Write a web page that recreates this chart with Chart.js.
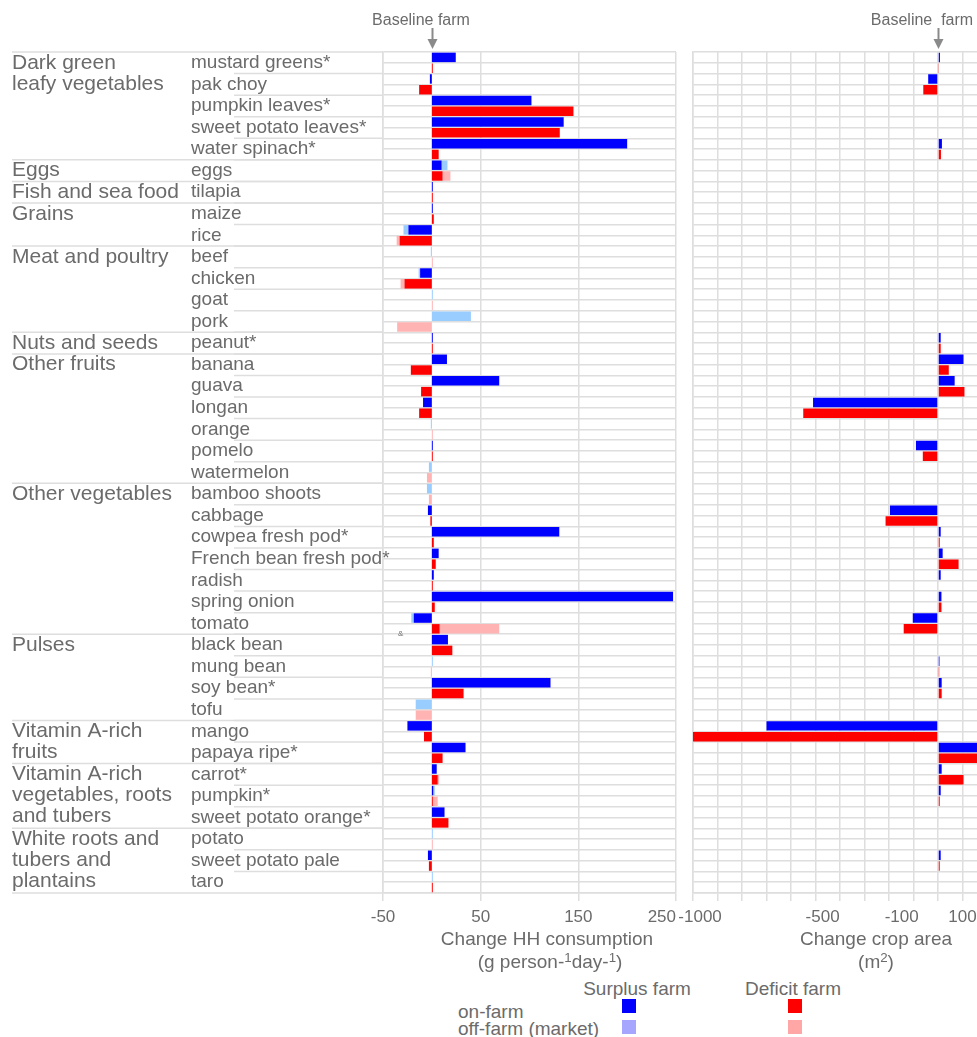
<!DOCTYPE html>
<html>
<head>
<meta charset="utf-8">
<script src="https://cdn.jsdelivr.net/npm/chart.js@4.4.1/dist/chart.umd.min.js"></script>
<style>
html, body { margin: 0; padding: 0; background: #fff; overflow: hidden; width: 977px; height: 1037px; }
body { position: relative; font-family: 'Liberation Sans', Arial, sans-serif; color: #6b6b6b; }
canvas { position: absolute; }
.t { position: absolute; white-space: pre; line-height: 1; transform: translate(-50%, -50%); }
.l { position: absolute; white-space: pre; line-height: 1; transform: translateY(-50%); }
.sq { position: absolute; width: 14px; height: 14px; }
sup { font-size: 0.7em; vertical-align: 0.45em; line-height: 0; }
</style>
</head>
<body>
<canvas id="consChart" width="716" height="940" style="left:0;top:0;width:716px;height:940px"></canvas>
<canvas id="areaChart" width="410" height="940" style="left:650px;top:0;width:410px;height:940px"></canvas>

<div class="t" style="left:421px;top:20px;font-size:16px">Baseline farm</div>
<div class="t" style="left:922px;top:20px;font-size:16px">Baseline  farm</div>
<div class="l" style="left:398px;top:634px;font-size:8px">&amp;</div>

<div class="t" style="left:547px;top:938px;font-size:19px">Change HH consumption</div>
<div class="t" style="left:550px;top:961px;font-size:19px">(g person-<sup>1</sup>day-<sup>1</sup>)</div>
<div class="t" style="left:876px;top:938px;font-size:19px">Change crop area</div>
<div class="t" style="left:876px;top:961px;font-size:19px">(m<sup>2</sup>)</div>

<div class="t" style="left:637px;top:988px;font-size:19px">Surplus farm</div>
<div class="t" style="left:793px;top:988px;font-size:19px">Deficit farm</div>
<div class="l" style="left:458px;top:1011px;font-size:19px">on-farm</div>
<div class="l" style="left:458px;top:1028px;font-size:19px">off-farm (market)</div>
<div class="sq" style="left:622px;top:999px;background:#0000ff"></div>
<div class="sq" style="left:788px;top:999px;background:#ff0000"></div>
<div class="sq" style="left:622px;top:1020px;background:#a6a6ff"></div>
<div class="sq" style="left:788px;top:1020px;background:#ffa6a6"></div>

<script>
const foods = [
    'mustard greens*', 'pak choy', 'pumpkin leaves*', 'sweet potato leaves*', 'water spinach*',
    'eggs', 'tilapia', 'maize', 'rice',
    'beef', 'chicken', 'goat', 'pork',
    'peanut*',
    'banana', 'guava', 'longan', 'orange', 'pomelo', 'watermelon',
    'bamboo shoots', 'cabbage', 'cowpea fresh pod*', 'French bean fresh pod*', 'radish', 'spring onion', 'tomato',
    'black bean', 'mung bean', 'soy bean*', 'tofu',
    'mango', 'papaya ripe*',
    'carrot*', 'pumpkin*', 'sweet potato orange*',
    'potato', 'sweet potato pale', 'taro'
]

const groupNames = [
    ['Dark green', 'leafy vegetables'], ['Eggs'], ['Fish and sea food'], ['Grains'],
    ['Meat and poultry'], ['Nuts and seeds'], ['Other fruits'], ['Other vegetables'], ['Pulses'],
    ['Vitamin A-rich', 'fruits'], ['Vitamin A-rich', 'vegetables, roots', 'and tubers'],
    ['White roots and', 'tubers and', 'plantains']
]
const groupSizes = [5, 1, 1, 2, 4, 1, 6, 7, 4, 2, 3, 3]

// change in household consumption (g person-1 day-1)
const surplusOnFarm = [24.5, -2, 102, 135, 200, 10, 1, 1, -24, null, -12, null, null, 1, 15.5, 69, -9, null, 1, null,
    null, -4, 130.5, 7, 2, 247, -18.5, 16.5, null, 121.5, null, -25, 34.5, 5, 1.5, 13, null, -4, null]
const surplusMarket = [null, null, null, null, null, 6, null, null, -5, -1, -1.5, 1, 40, null, null, null, null, -1, null, -3,
    -5, null, null, null, null, null, -2.5, null, 1, null, -16.5, null, null, null, 1.5, null, 1, null, 1]
const deficitOnFarm = [1, -13, 145, 131, 7, 11, 1, 2, -33, null, -28, null, null, 1, -21.5, -11, -13, null, 1, null,
    null, -1.5, 2, 4, 1, 3, 8, 21, null, 32.5, null, -8, 11, 6, 1, 17, null, -3, 1]
const deficitMarket = [null, null, null, null, null, 8, null, null, -3, 1, -4, 1, -35.5, null, null, null, null, 1, null, -5,
    -3, null, null, null, null, null, 61, null, -1, null, -16.5, null, null, 1.5, 5, null, 1, null, null]

// change in crop area (m2)
const areaSurplus = [8, -40, null, null, 16, null, null, null, null, null, null, null, null, 11, 104, 68, -510, null, -90, null,
    null, -196, 11, 19, 11, 14, -103, null, 6, 15, null, -700, 200, 15, 11, 3, null, 11, 3]
const areaDeficit = [2, -60, null, null, 12, null, null, null, null, null, null, null, null, 11, 44, 108, -550, null, -62, null,
    null, -214, 7, 84, 3, 14, -140, null, 5, 15, null, -1000, 200, 104, 7, 3, null, 7, 3]

const consTicks = [-50, 50, 150, 250]
const areaTickLabels = [-1000, -500, -100, 100]

// the printed labels sit a little off their grid lines, spaces nudge them
const consTickText = { '-50': '-50', '50': '50', '150': '150', '250': '250      ' }
const areaTickText = { '-1000': '   -1000', '-500': '   -500', '-100': '-100     ', '100': '100' }

const gridGray = '#dedede'
const textGray = '#6b6b6b'
const fontFamily = '"Liberation Sans", Arial, sans-serif'

// every food gets two sub-rows: surplus farm on top, deficit farm below
const rowLabels = []
foods.forEach(f => { rowLabels.push(f + ' surplus', f + ' deficit') })

function toRows(values, top) {
    const out = []
    values.forEach(v => {
        if (top) out.push(v, null)
        else out.push(null, v)
    })
    return out
}

function barSet(label, values, top, color) {
    return {
        label: label,
        data: toRows(values, top),
        backgroundColor: color,
        borderWidth: 0,
        barPercentage: 0.88,
        categoryPercentage: 1
    }
}

const baselineArrow = {
    id: 'baselineArrow',
    afterDraw(chart) {
        const ctx = chart.ctx
        const x = Math.round(chart.scales.x.getPixelForValue(0)) + 0.5
        ctx.save()
        ctx.strokeStyle = '#8a8a8a'
        ctx.fillStyle = '#8a8a8a'
        ctx.lineWidth = 2
        ctx.beginPath()
        ctx.moveTo(x, 28)
        ctx.lineTo(x, 41)
        ctx.stroke()
        ctx.beginPath()
        ctx.moveTo(x - 5, 39)
        ctx.lineTo(x + 5, 39)
        ctx.lineTo(x, 49)
        ctx.closePath()
        ctx.fill()
        ctx.restore()
    }
}

const foodLabels = {
    id: 'foodLabels',
    afterDraw(chart) {
        const ctx = chart.ctx
        const yScale = chart.scales.y
        const left = chart.chartArea.left
        const itemH = (yScale.bottom - yScale.top) / foods.length
        ctx.save()
        ctx.strokeStyle = gridGray
        ctx.lineWidth = 1.5
        for (let i = 1; i < foods.length; i++) {
            const y = yScale.top + i * itemH
            ctx.beginPath()
            ctx.moveTo(234, y)
            ctx.lineTo(left, y)
            ctx.stroke()
        }
        let start = 0
        groupSizes.forEach(n => {
            const y = yScale.top + start * itemH
            ctx.beginPath()
            ctx.moveTo(12, y)
            ctx.lineTo(left, y)
            ctx.stroke()
            start += n
        })
        ctx.beginPath()
        ctx.moveTo(12, yScale.bottom)
        ctx.lineTo(left, yScale.bottom)
        ctx.stroke()

        ctx.fillStyle = textGray
        ctx.textBaseline = 'middle'
        ctx.textAlign = 'left'
        ctx.font = '19px ' + fontFamily
        foods.forEach((f, i) => {
            ctx.fillText(f, 191, yScale.top + (i + 0.5) * itemH)
        })
        ctx.font = '21px ' + fontFamily
        start = 0
        groupNames.forEach((lines, g) => {
            lines.forEach((line, k) => {
                ctx.fillText(line, 12, yScale.top + (start + 0.5) * itemH + k * 21)
            })
            start += groupSizes[g]
        })
        ctx.restore()
    }
}

const consChart = new Chart(document.getElementById('consChart'), {
    type: 'bar',
    data: {
        labels: rowLabels,
        datasets: [
            barSet('Surplus on-farm', surplusOnFarm, true, '#0000ff'),
            barSet('Surplus off-farm', surplusMarket, true, '#99ccff'),
            barSet('Deficit on-farm', deficitOnFarm, false, '#ff0000'),
            barSet('Deficit off-farm', deficitMarket, false, '#ffb3b3')
        ]
    },
    options: {
        indexAxis: 'y',
        responsive: false,
        animation: false,
        layout: { padding: { left: 383, top: 52, right: 40, bottom: 0 } },
        plugins: { legend: { display: false }, tooltip: { enabled: false } },
        scales: {
            x: {
                min: -50,
                max: 250,
                stacked: true,
                afterBuildTicks: s => { s.ticks = consTicks.map(v => ({ value: v })) },
                afterFit: s => { s.height = 47 },
                grid: { color: gridGray, lineWidth: 1.5, tickLength: 8 },
                border: { color: gridGray, width: 1.5 },
                ticks: {
                    color: textGray,
                    font: { family: fontFamily, size: 17 },
                    padding: 6,
                    maxRotation: 0,
                    autoSkip: false,
                    callback: v => consTickText[String(v)]
                }
            },
            y: {
                stacked: true,
                offset: true,
                afterFit: s => { s.width = 0 },
                grid: { offset: true, color: gridGray, lineWidth: 1.5, drawTicks: false },
                border: { color: gridGray, width: 1.5 },
                ticks: { display: false }
            }
        }
    },
    plugins: [foodLabels, baselineArrow]
})

const areaChart = new Chart(document.getElementById('areaChart'), {
    type: 'bar',
    data: {
        labels: rowLabels,
        datasets: [
            barSet('Surplus farm', areaSurplus, true, '#0000ff'),
            barSet('Deficit farm', areaDeficit, false, '#ff0000')
        ]
    },
    options: {
        indexAxis: 'y',
        responsive: false,
        animation: false,
        layout: { padding: { left: 43, top: 52, right: 48.5, bottom: 0 } },
        plugins: { legend: { display: false }, tooltip: { enabled: false } },
        scales: {
            x: {
                min: -1000,
                max: 300,
                stacked: true,
                afterFit: s => { s.height = 47 },
                grid: { color: gridGray, lineWidth: 1.5, tickLength: 8 },
                border: { color: gridGray, width: 1.5 },
                ticks: {
                    stepSize: 100,
                    autoSkip: false,
                    maxRotation: 0,
                    padding: 6,
                    color: textGray,
                    font: { family: fontFamily, size: 17 },
                    callback: v => areaTickLabels.includes(v) ? areaTickText[String(v)] : ''
                }
            },
            y: {
                stacked: true,
                offset: true,
                afterFit: s => { s.width = 0 },
                grid: { offset: true, color: gridGray, lineWidth: 1.5, drawTicks: false },
                border: { color: gridGray, width: 1.5 },
                ticks: { display: false }
            }
        }
    },
    plugins: [baselineArrow]
})
</script>
</body>
</html>
